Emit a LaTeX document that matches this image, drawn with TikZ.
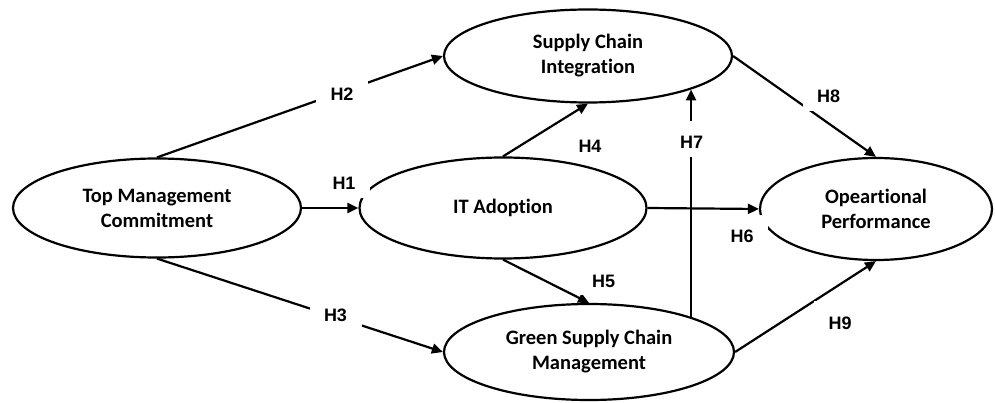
\documentclass[tikz,border=0pt]{standalone}
\usepackage{fontspec}
\setmainfont{Carlito}[Ligatures={NoCommon}]
\newfontfamily\lblfont{Liberation Sans}
\usetikzlibrary{shapes.geometric,arrows.meta}
\begin{document}
\begin{tikzpicture}[x=1pt,y=-1pt,
  ell/.style={ellipse, draw, line width=2.2pt, inner sep=0pt, align=center,
    font=\bfseries\fontsize{20.5}{25}\selectfont},
  arr/.style={line width=2.2pt, -{Triangle[length=11pt,width=10pt]}},
  hlbl/.style={fill=white, anchor=base, text height=28pt, text depth=8pt,
    inner sep=0pt, minimum width=52pt,
    font=\lblfont\bfseries\fontsize{18}{21}\selectfont}]
\useasboundingbox (0,0) rectangle (995,403);
% constructs
\node[ell, minimum width=288pt, minimum height=99pt]  (tmc)  at (157,208) {Top Management\\Commitment};
\node[ell, minimum width=288pt, minimum height=93pt]  (sci)  at (588,56)  {Supply Chain\\Integration};
\node[ell, minimum width=287pt, minimum height=101pt] (it)   at (503,208) {IT Adoption};
\node[ell, minimum width=290pt, minimum height=96pt]  (gscm) at (589,352) {Green Supply Chain\\Management};
\node[ell, minimum width=232pt, minimum height=102pt] (op)   at (876,209) {Opeartional\\Performance};
% paths
\draw[arr] (tmc.east) -- (it.west);
\draw[arr] (tmc.north) -- (sci.west);
\draw[arr] (tmc.south) -- (gscm.west);
\draw[arr] (it.north) -- (sci.south);
\draw[arr] (it.south) -- (gscm.north);
\draw[arr] (it.east) -- (op.west);
\coordinate (h7top) at (gscm.19.3 |- sci.-18.1);
\draw[arr] (gscm.19.3) -- (h7top);
\draw[arr] (sci.east) -- (op.north);
\draw[arr] (gscm.east) -- (op.south);
% labels
\node[hlbl] (l1) at (344,190) {H1};
\node[hlbl] (l2) at (342,101) {H2};
\node[hlbl] (l3) at (335.5,321) {H3};
\node[hlbl] (l4) at (590,153) {H4};
\node[hlbl] (l5) at (603.5,287) {H5};
\node[hlbl] (l6) at (742,243) {H6};
\node[hlbl] (l7) at (691.5,149) {H7};
\node[hlbl] (l8) at (828.5,103) {H8};
\node[hlbl] (l9) at (840,329) {H9};
\end{tikzpicture}
\end{document}
